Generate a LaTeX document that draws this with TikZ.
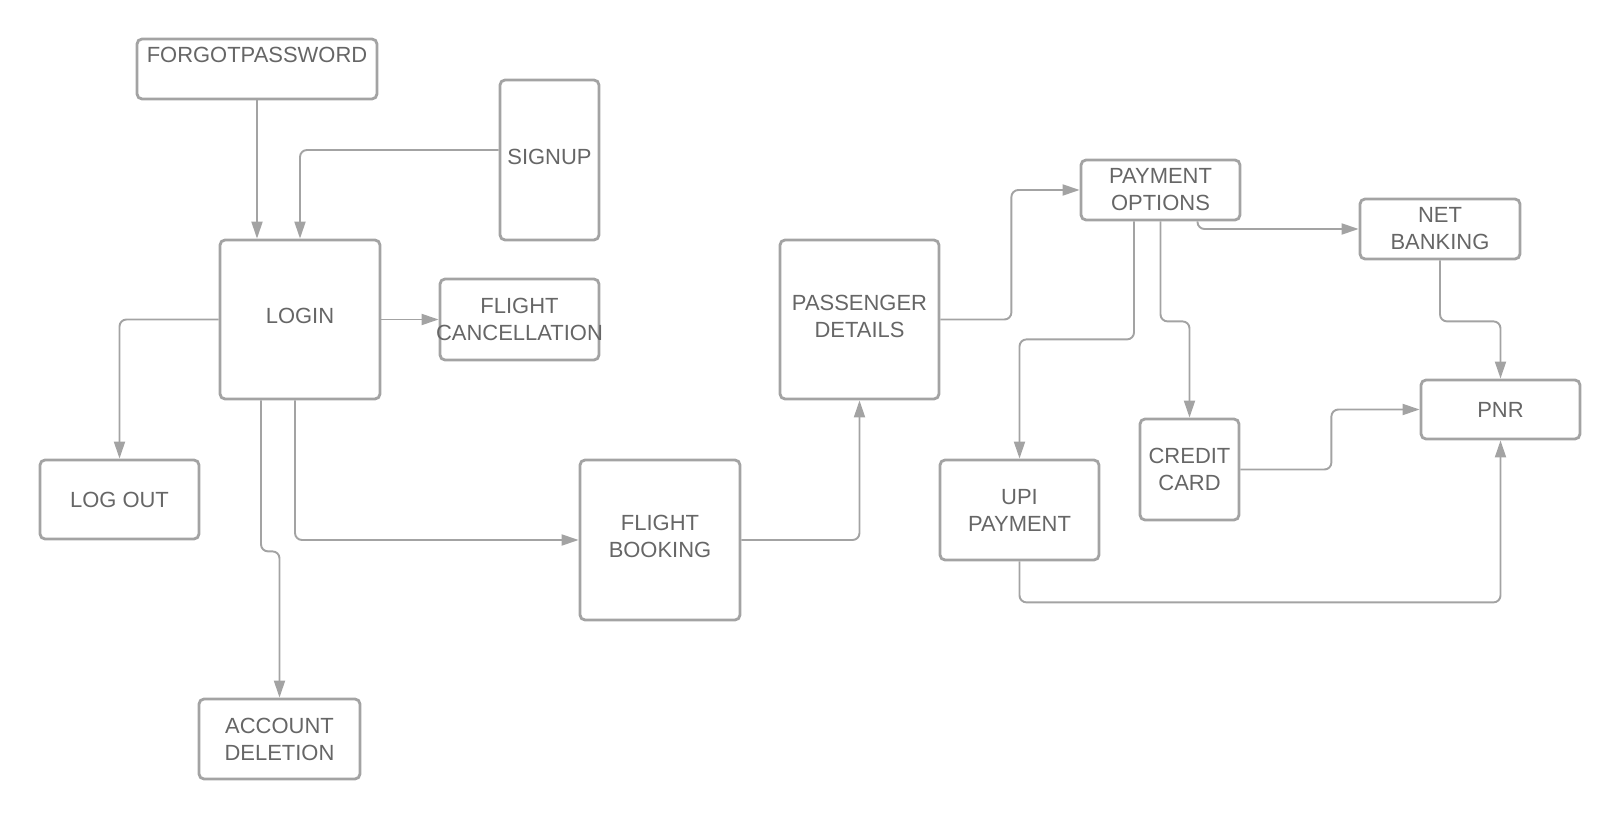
\documentclass[tikz,border=0pt]{standalone}
\usepackage{fontspec}
\setmainfont{Liberation Sans}
\usepackage{tikz}
\usepackage{xcolor}
\usetikzlibrary{arrows.meta, positioning, calc}

\definecolor{linegray}{HTML}{A3A3A3}
\definecolor{textgray}{HTML}{666666}

\begin{document}
\begin{tikzpicture}[
  x=0.02cm, y=-0.02cm,
  flowbox/.style={draw=linegray, line width=1.6pt, rounded corners=0.1cm, fill=white,
    text=textgray, align=center, inner sep=0pt, font=\fontsize{12.5}{15.4}\selectfont},
  link/.style={draw=linegray, line width=1.1pt, rounded corners=0.14cm,
    -{Triangle[length=0.34cm, width=0.22cm]}},
]
\useasboundingbox (0,0) rectangle (1620,820);

% --- account side ---
\node[flowbox, minimum width=4.8cm, minimum height=1.2cm, text depth=0.56cm] (forgot) at (257,69) {FORGOTPASSWORD};
\node[flowbox, minimum width=1.98cm, minimum height=3.2cm, text depth=0.14cm] (signup) at (549.5,160) {SIGNUP};
\node[flowbox, minimum width=3.2cm, minimum height=3.18cm, text depth=0.14cm] (login) at (300,319.5) {LOGIN};
\node[flowbox, minimum width=3.18cm, minimum height=1.62cm] (cancel) at (519.5,319.5) {FLIGHT\\\makebox[0pt]{CANCELLATION}};
\node[flowbox, minimum width=3.18cm, minimum height=1.58cm] (logout) at (119.5,499.5) {LOG OUT};
\node[flowbox, minimum width=3.22cm, minimum height=1.6cm] (delete) at (279.5,739) {ACCOUNT\\DELETION};

% --- booking side ---
\node[flowbox, minimum width=3.2cm, minimum height=3.2cm, text depth=0.16cm] (booking) at (660,540) {FLIGHT\\BOOKING};
\node[flowbox, minimum width=3.18cm, minimum height=3.18cm, text depth=0.14cm] (passenger) at (859.5,319.5) {PASSENGER\\DETAILS};
\node[flowbox, minimum width=3.18cm, minimum height=1.2cm] (payopt) at (1160.5,190) {PAYMENT\\OPTIONS};
\node[flowbox, minimum width=3.2cm, minimum height=1.2cm] (netbank) at (1440,229) {NET\\BANKING};
\node[flowbox, minimum width=3.18cm, minimum height=1.18cm] (pnr) at (1500.5,409.5) {PNR};
\node[flowbox, minimum width=1.98cm, minimum height=2.02cm] (credit) at (1189.5,469.5) {CREDIT\\CARD};
\node[flowbox, minimum width=3.18cm, minimum height=2cm] (upi) at (1019.5,510) {UPI\\PAYMENT};

% --- connectors ---
\draw[link] (forgot.south) -- (forgot.south |- login.north);
\draw[link] ([yshift=0.2cm]signup.west) -| (login.north);
\draw[link] (login.east) -- (cancel.west);
\draw[link] (login.west) -| (logout.north);
\draw[link] ([xshift=-0.78cm]login.south) -- ++(0,151) -| (delete.north);
\draw[link] ([xshift=-0.1cm]login.south) |- (booking.west);
\draw[link] (booking.east) -| (passenger.south);
\draw[link] (passenger.east) -- ++(71,0) |- (payopt.west);
\draw[link] ([xshift=0.74cm]payopt.south) |- (netbank.west);
\draw[link] (payopt.south) -- ++(0,100) -| (credit.north);
\draw[link] ([xshift=-0.53cm]payopt.south) -- ++(0,118) -| (upi.north);
\draw[link] (netbank.south) -- ++(0,61) -| (pnr.north);
\draw[link] (credit.east) -- ++(91,0) |- (pnr.west);
\draw[link] (upi.south) -- ++(0,41) -| (pnr.south);

\end{tikzpicture}
\end{document}
